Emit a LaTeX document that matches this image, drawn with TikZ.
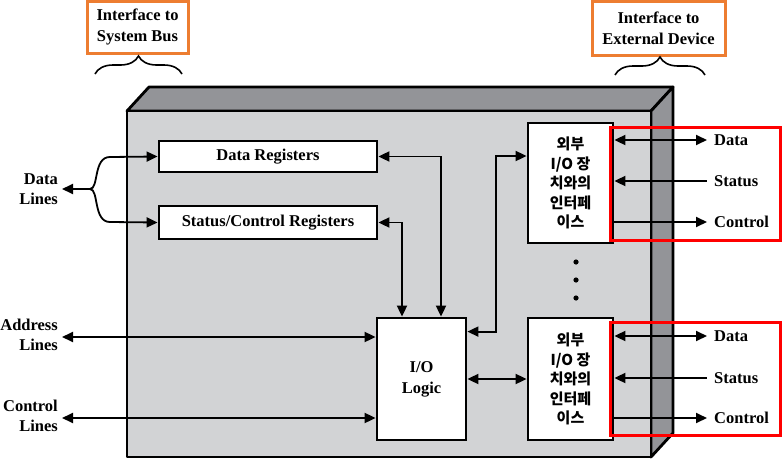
\documentclass[tikz,border=0pt]{standalone}
\usepackage{fontspec}
\setmainfont{Liberation Serif}
\newfontfamily\kr{Noto Sans CJK KR}
\usetikzlibrary{arrows.meta,calc,decorations.pathreplacing}
\definecolor{facegray}{RGB}{210,211,213}
\definecolor{sidegray}{RGB}{147,148,152}
\definecolor{orangeb}{RGB}{237,125,49}
\begin{document}
\begin{tikzpicture}[x=1pt,y=-1pt,
  >={Triangle[length=11pt,width=10pt]},
  box/.style={draw=black, line width=2.8pt, fill=white, inner sep=0pt, font=\bfseries\fontsize{16.5}{21}\selectfont},
  krbox/.style={box, font=\kr\bfseries\fontsize{15}{19.5}\selectfont, align=center},
  conn/.style={line width=1.8pt},
  lbl/.style={font=\bfseries\fontsize{16.5}{20}\selectfont, inner sep=0pt},
  hl/.style={draw=red, line width=3pt},
  ob/.style={draw=orangeb, line width=3pt, fill=white, font=\bfseries\fontsize{16.5}{21}\selectfont, align=center, inner sep=0pt},
  brc/.style={decorate, decoration={brace, amplitude=18pt}, line width=1.6pt}]
\useasboundingbox (0,0) rectangle (784,463);
% housing
\draw[line width=2.8pt, line join=round, fill=sidegray] (127,111) -- (149,87) -- (673,87) -- (651,111) -- cycle;
\draw[line width=2.8pt, line join=round, fill=sidegray] (651,111) -- (673,87) -- (673,433) -- (651,457) -- cycle;
\draw[line width=2.8pt, line join=round, fill=facegray] (127,111) rectangle (651,457);
% boxes
\node[box, minimum width=218pt, minimum height=31pt] (dr) at (268,156.5) {Data Registers};
\node[box, minimum width=218pt, minimum height=33pt] (sr) at (268,222.5) {Status/Control Registers};
\node[box, minimum width=89pt, minimum height=122pt, align=center] (io) at (421.5,379) {I/O\\Logic};
\node[krbox, minimum width=85pt, minimum height=120pt] (ub) at (570.5,183) {외부\\I/O 장\\치와의\\인터페\\이스};
\node[krbox, minimum width=85pt, minimum height=122pt] (lb) at (570.5,379) {외부\\I/O 장\\치와의\\인터페\\이스};
% dots
\fill (576,262) circle (2.6pt) (576,280) circle (2.6pt) (576,298) circle (2.6pt);
% left labels
\node[lbl, align=right, anchor=east] (dl) at (58,189) {Data\\Lines};
\node[lbl, align=right, anchor=east] (al) at (58,335) {Address\\Lines};
\node[lbl, align=right, anchor=east] (cl) at (58,416) {Control\\Lines};
\coordinate (dlt) at (62,189);
\coordinate (dlb) at (90,189);
\coordinate (alt) at (62,337);
\coordinate (clt) at (62,418);
% data lines
\draw[conn,->] (dlb) -- (dlt);
\draw[conn,->] (dlb) .. controls (99,189) and (93,157) .. (110,157) -- (dr.west);
\draw[conn,->] (dlb) .. controls (99,189) and (93,222) .. (110,222) -- (sr.west);
% address/control lines
\draw[conn,<->] (alt) -- (alt -| io.west);
\draw[conn,<->] (clt) -- (clt -| io.west);
% registers to io
\draw[conn,<->] (dr.east) -| ([xshift=19.5pt]io.north);
\draw[conn,<->] (sr.east) -| ([xshift=-19.5pt]io.north);
% io to upper interface
\coordinate (j) at (496,156);
\draw[conn,<->] ($(io.north east)+(0,15)$) -| (j) -- (j -| ub.west);
\draw[conn,<->] (io.east) -- (lb.west);
% right side
\foreach \b/\dy/\sy/\cy in {ub/140/181/222, lb/336/378/418}{
  \coordinate (dt) at (707,\dy);
  \coordinate (st) at (707,\sy);
  \coordinate (ct) at (707,\cy);
  \draw[conn,<->] (dt -| \b.east) -- (dt);
  \draw[conn,<-] (st -| \b.east) -- (st);
  \draw[conn,->] (ct -| \b.east) -- (ct);
  \node[lbl, anchor=west] at (714,\dy) {Data};
  \node[lbl, anchor=west] at (714,\sy) {Status};
  \node[lbl, anchor=west] at (714,\cy) {Control};
}
% red highlights
\draw[hl] (610,127) rectangle (780,240);
\draw[hl] (610,322) rectangle (780,435);
% top labels
\node[ob, minimum width=101pt, minimum height=52pt] (sb) at (137.5,27) {Interface to\\System Bus};
\node[ob, minimum width=133pt, minimum height=54pt] (ed) at (658.5,28) {Interface to\\External Device};
\draw[brc] (95,74) -- (182,74);
\draw[brc] (615,75) -- (705,75);
\end{tikzpicture}
\end{document}
